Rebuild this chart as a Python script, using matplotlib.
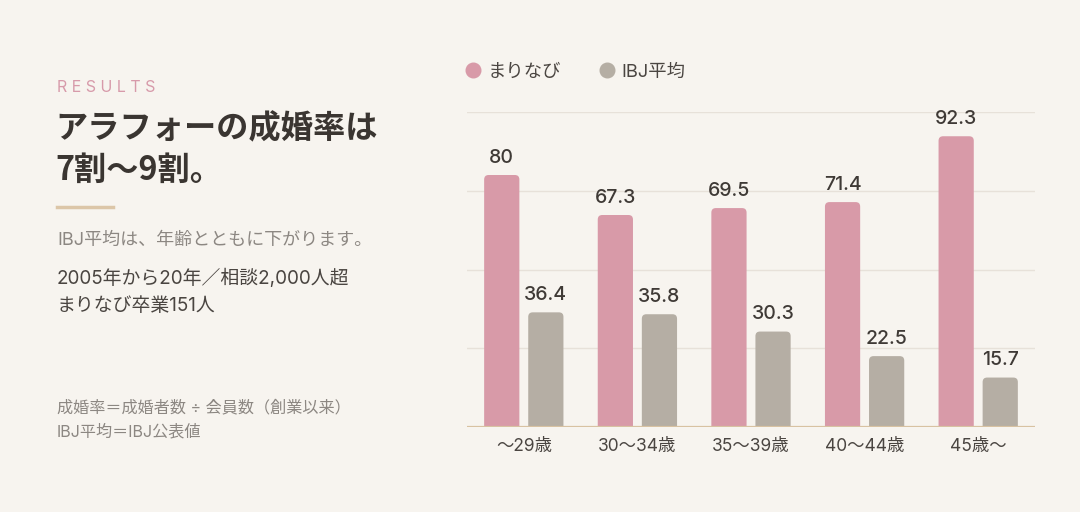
import matplotlib
matplotlib.use("Agg")
import matplotlib.pyplot as plt
import numpy as np
from matplotlib.patches import FancyBboxPatch
from matplotlib.lines import Line2D

categories = ["〜29歳", "30〜34歳", "35〜39歳", "40〜44歳", "45歳〜"]
marinabi = [80, 67.3, 69.5, 71.4, 92.3]
ibj = [36.4, 35.8, 30.3, 22.5, 15.7]
series_names = ["まりなび", "IBJ平均"]
value_labels_a = ["80", "67.3", "69.5", "71.4", "92.3"]
value_labels_b = ["36.4", "35.8", "30.3", "22.5", "15.7"]

BG = "#f7f4ef"
PINK = "#d89aa8"
GREY = "#b5aea4"
DARK = "#3f3a36"
MID = "#8c8782"
JP = ["Noto Sans CJK JP", "DejaVu Sans"]
NUM = ["Inter", "Noto Sans CJK JP", "DejaVu Sans"]

plt.rcParams["font.family"] = JP
W, H = 1080, 512
fig = plt.figure(figsize=(W / 100, H / 100), dpi=100, facecolor=BG)


def fx(px):
    return px / W


def fy(py):
    return 1 - py / H


# ---- left text block ----
fig.text(fx(57), fy(88), "R E S U L T S", color="#d79aaa", fontsize=11.5,
         va="center", ha="left", family=["Inter", "DejaVu Sans"])
fig.text(fx(55), fy(129), "アラフォーの成婚率は", color="#3a3531", fontsize=23.2,
         fontweight="bold", va="center", ha="left")
fig.text(fx(55), fy(170), "7割〜9割。", color="#3a3531", fontsize=23.2,
         fontweight="bold", va="center", ha="left")
fig.add_artist(Line2D([fx(57), fx(113)], [fy(207), fy(207)], color="#dcc6a8",
                      lw=2.5, transform=fig.transFigure))
fig.text(fx(57), fy(240), "IBJ平均は、年齢とともに下がります。", color=MID,
         fontsize=13, va="center", ha="left", family=NUM)
fig.text(fx(57), fy(278), "2005年から20年／相談2,000人超", color="#4a4541",
         fontsize=13.6, va="center", ha="left", family=NUM)
fig.text(fx(57), fy(306), "まりなび卒業151人", color="#4a4541",
         fontsize=13.6, va="center", ha="left", family=NUM)
fig.text(fx(57), fy(407), "成婚率＝成婚者数 ÷ 会員数（創業以来）", color=MID,
         fontsize=11.6, va="center", ha="left", family=NUM)
fig.text(fx(57), fy(432), "IBJ平均＝IBJ公表値", color=MID,
         fontsize=11.6, va="center", ha="left", family=NUM)

# ---- chart ----
left, right, bottom, top = 467, 1035, 427, 112
ax = fig.add_axes([fx(left), fy(bottom), (right - left) / W, (bottom - top) / H])
ax.set_facecolor(BG)
ax.set_xlim(-0.5, len(categories) - 0.5)
ax.set_ylim(0, 100)

for g in [25, 50, 75, 100]:
    ax.axhline(g, color="#e7e1d9", lw=1, zorder=0)

x = np.arange(len(categories))
bw = 0.31
off = 0.194
px_per_x = (right - left) / len(categories)
px_per_y = (bottom - top) / 100
r = 4.5 / px_per_x
aspect = (4.5 / px_per_y) / r


def rbar(xc, h, color):
    p = FancyBboxPatch((xc - bw / 2 + r, -10), bw - 2 * r, h + 10 - r * aspect,
                       boxstyle=f"round,pad={r},rounding_size={r}",
                       mutation_aspect=aspect, fc=color, ec="none", zorder=2,
                       clip_on=True)
    ax.add_patch(p)


for i in range(len(categories)):
    rbar(x[i] - off, marinabi[i], PINK)
    rbar(x[i] + off, ibj[i], GREY)
    ax.text(x[i] - off, marinabi[i] + 2.6, value_labels_a[i], ha="center",
            va="bottom", fontsize=14, color=DARK, family=NUM, fontweight="medium")
    ax.text(x[i] + off, ibj[i] + 2.6, value_labels_b[i], ha="center",
            va="bottom", fontsize=14, color=DARK, family=NUM, fontweight="medium")

ax.axhline(0, color="#d8c2a2", lw=1.6, zorder=3)
for s in ax.spines.values():
    s.set_visible(False)
ax.set_yticks([])
ax.set_xticks(x)
ax.set_xticklabels(categories, fontsize=12.5, color="#4a4541", family=NUM)
ax.tick_params(axis="x", length=0, pad=8)

handles = [Line2D([], [], marker="o", ls="none", markersize=10.5, color=PINK),
           Line2D([], [], marker="o", ls="none", markersize=10.5, color=GREY)]
fig.legend(handles, series_names, loc="center left",
           bbox_to_anchor=(fx(462), fy(72)), ncol=2, frameon=False,
           handletextpad=0.2, columnspacing=1.9,
           labelcolor="#4a4541", handlelength=1.2, borderpad=0,
           borderaxespad=0, prop={"family": NUM, "size": 13.2})

fig.savefig("out.png", dpi=100, facecolor=BG)
